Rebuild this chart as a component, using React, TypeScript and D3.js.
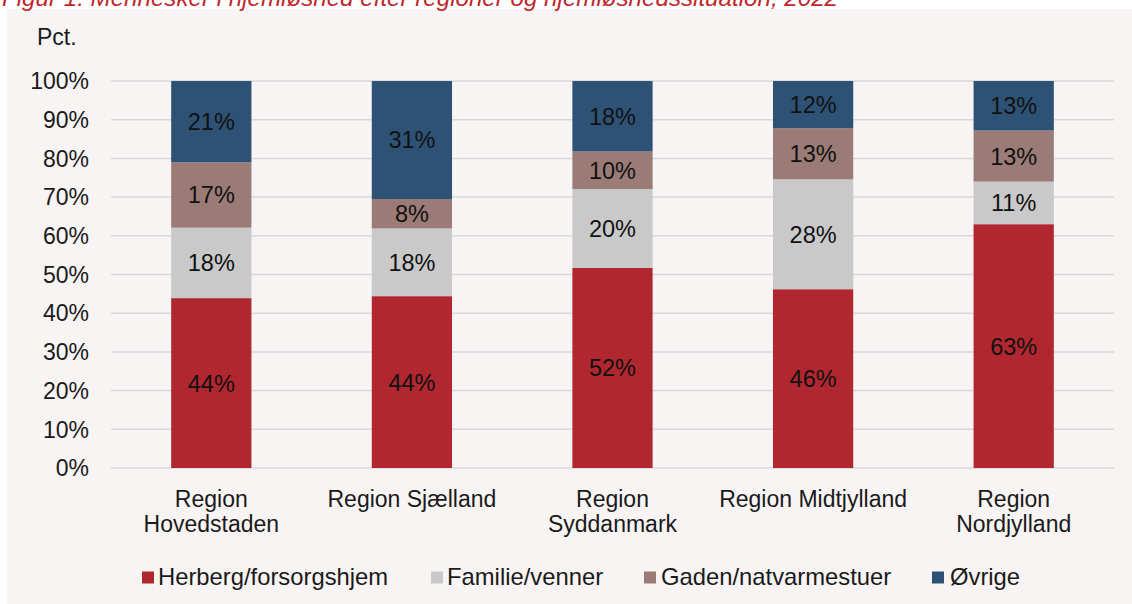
import React from "react";
import * as d3 from "d3";

const categories: string[][] = [
  ["Region", "Hovedstaden"],
  ["Region Sjælland"],
  ["Region", "Syddanmark"],
  ["Region Midtjylland"],
  ["Region", "Nordjylland"],
];
const seriesNames = ["Herberg/forsorgshjem", "Familie/venner", "Gaden/natvarmestuer", "Øvrige"];
const herberg = [43.9, 44.4, 51.7, 46.2, 63.0];
const familie = [18.2, 17.5, 20.4, 28.4, 11.0];
const gaden = [16.9, 7.6, 9.7, 13.2, 13.2];
const ovrige = [21.0, 30.5, 18.2, 12.2, 12.8];
const yTicks = [0, 10, 20, 30, 40, 50, 60, 70, 80, 90, 100];
const colors = ["#b0272f", "#c9c9c9", "#9a7b76", "#2e5275"];
const legendSquareX = [142, 431, 644, 932];
const legendTextX = [158, 447, 661, 950];

const W = 1132;
const H = 604;

export default function App() {
  const series = [herberg, familie, gaden, ovrige];
  const x = d3.scaleBand<number>().domain(d3.range(categories.length)).range([111, 1114]).paddingInner(0.6).paddingOuter(0.3);
  const y = d3.scaleLinear().domain([0, 100]).range([468, 81]);
  const font = "'Liberation Sans', Arial, sans-serif";
  return (
    <svg width={W} height={H} style={{ position: "absolute", left: 0, top: 0 }} fontFamily={font}>
      <rect x={0} y={0} width={W} height={H} fill="#ffffff" />
      <rect x={7} y={9} width={W - 7} height={H - 9} fill="#f7f4f3" />
      <text x={2} y={6} fill="#c0272d" fontSize={24} fontStyle="italic" textLength={836} lengthAdjust="spacingAndGlyphs">
        Figur 1: Mennesker i hjemløshed efter regioner og hjemløshedssituation, 2022
      </text>
      <text x={37} y={45} fontSize={23} fill="#1a1a1a">Pct.</text>
      {yTicks.map((t) => (
        <g key={t}>
          <line x1={111} x2={1114} y1={y(t)} y2={y(t)} stroke="#d9d9d9" strokeWidth={1.5} />
          <text x={89} y={y(t)} dy="0.36em" textAnchor="end" fontSize={23} fill="#1a1a1a">{t}%</text>
        </g>
      ))}
      {categories.map((c, i) => {
        let acc = 0;
        const bw = x.bandwidth();
        const bx = x(i)!;
        return (
          <g key={i}>
            {series.map((s, k) => {
              const v = s[i];
              const y0 = acc;
              acc += v;
              const top = y(acc);
              const bot = y(y0);
              return (
                <g key={k}>
                  <rect x={bx} y={top} width={bw} height={bot - top} fill={colors[k]} />
                  <text x={bx + bw / 2} y={(top + bot) / 2} dy="0.36em" textAnchor="middle" fontSize={23.5} fill="#111">
                    {Math.round(v)}%
                  </text>
                </g>
              );
            })}
            {c.map((line, j) => (
              <text key={j} x={bx + bw / 2} y={507 + j * 25} textAnchor="middle" fontSize={23} fill="#1a1a1a">{line}</text>
            ))}
          </g>
        );
      })}
      {seriesNames.map((n, k) => (
        <g key={n}>
          <rect x={legendSquareX[k]} y={571.5} width={12} height={12} fill={colors[k]} />
          <text x={legendTextX[k]} y={585} fontSize={23.8} fill="#1a1a1a">{n}</text>
        </g>
      ))}
    </svg>
  );
}
